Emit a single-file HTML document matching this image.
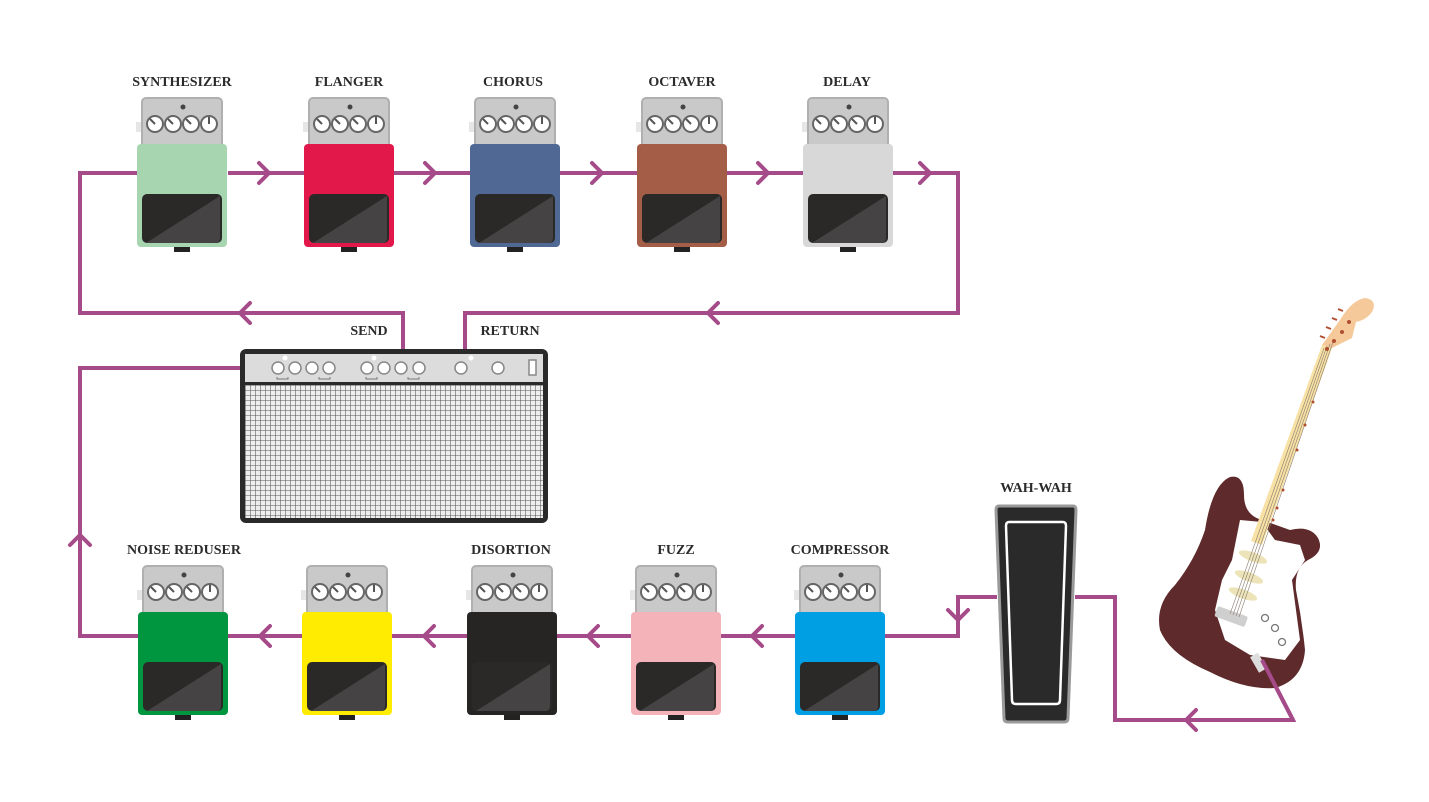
<!DOCTYPE html>
<html><head><style>
html,body{margin:0;padding:0;background:#fff;}
svg{display:block}
text{font-family:"Liberation Serif",serif;font-weight:bold;font-size:14px;fill:#2b2b2b;text-anchor:middle}
</style></head><body>
<svg width="1429" height="802" viewBox="0 0 1429 802" xmlns="http://www.w3.org/2000/svg">
<defs>
<g id="top">
<rect x="-46" y="24" width="8" height="10" fill="#e6e6e6"/>
<rect x="-40" y="0" width="80" height="50" rx="4" fill="#c9c9c9" stroke="#b0b0b0" stroke-width="2"/>
<circle cx="1" cy="9" r="2.5" fill="#444"/>
<g fill="#fff" stroke="#666" stroke-width="2">
<circle cx="-27" cy="26" r="8"/><circle cx="-9" cy="26" r="8"/><circle cx="9" cy="26" r="8"/><circle cx="27" cy="26" r="8"/></g>
<g stroke="#555" stroke-width="2"><line x1="-27" y1="26" x2="-32" y2="21"/><line x1="-9" y1="26" x2="-14" y2="21"/><line x1="9" y1="26" x2="4" y2="21"/><line x1="27" y1="26" x2="27" y2="19"/></g>
</g>
<g id="foot">
<rect x="-40" y="96" width="80" height="49" rx="5" fill="#2a2928"/>
<path d="M38 98 L38 140 Q38 145 33 145 L-36 145 Z" fill="#454344"/>
<rect x="-8" y="149" width="16" height="5" fill="#222"/>
</g>
<pattern id="grid" width="5" height="5" patternUnits="userSpaceOnUse">
<rect width="5" height="5" fill="#eeeeee"/><path d="M0 0H5M0 0V5" stroke="#555" stroke-width="1.1"/>
</pattern>
</defs>

<g fill="none" stroke="#a64b89" stroke-width="4" stroke-linejoin="miter">
<polyline points="138,173 80,173 80,313 403,313 403,350"/>
<polyline points="465,350 465,313 958,313 958,173 893,173"/>
<line x1="228" y1="173" x2="305" y2="173"/>
<line x1="394" y1="173" x2="471" y2="173"/>
<line x1="560" y1="173" x2="638" y2="173"/>
<line x1="727" y1="173" x2="804" y2="173"/>
<polyline points="252,368 80,368 80,636 138,636"/>
<line x1="228" y1="636" x2="302" y2="636"/>
<line x1="392" y1="636" x2="467" y2="636"/>
<line x1="557" y1="636" x2="631" y2="636"/>
<line x1="721" y1="636" x2="796" y2="636"/>
<polyline points="885,636 958,636 958,597 997,597"/>
<polyline points="1075,597 1115,597 1115,720 1293,720 1262,660"/>
<g stroke-linecap="round" stroke-linejoin="round">
<polyline points="259,163 269,173 259,183"/>
<polyline points="425,163 435,173 425,183"/>
<polyline points="592,163 602,173 592,183"/>
<polyline points="758,163 768,173 758,183"/>
<polyline points="920,163 930,173 920,183"/>
<polyline points="250,303 240,313 250,323"/>
<polyline points="718,303 708,313 718,323"/>
<polyline points="70,545 80,535 90,545"/>
<polyline points="270,626 260,636 270,646"/>
<polyline points="434,626 424,636 434,646"/>
<polyline points="598,626 588,636 598,646"/>
<polyline points="762,626 752,636 762,646"/>
<polyline points="948,610 958,620 968,610"/>
<polyline points="1196,710 1186,720 1196,730"/>
</g>
</g>
<circle cx="250" cy="368" r="5" fill="#a64b89"/>

<g transform="translate(182,98)"><use href="#top"/><rect x="-45" y="46" width="90" height="103" rx="4" fill="#a6d5b0"/><use href="#foot"/></g>
<g transform="translate(349,98)"><use href="#top"/><rect x="-45" y="46" width="90" height="103" rx="4" fill="#e2184a"/><use href="#foot"/></g>
<g transform="translate(515,98)"><use href="#top"/><rect x="-45" y="46" width="90" height="103" rx="4" fill="#506894"/><use href="#foot"/></g>
<g transform="translate(682,98)"><use href="#top"/><rect x="-45" y="46" width="90" height="103" rx="4" fill="#a45d47"/><use href="#foot"/></g>
<g transform="translate(848,98)"><use href="#top"/><rect x="-45" y="46" width="90" height="103" rx="4" fill="#d8d8d8"/><use href="#foot"/></g>
<text x="182" y="86">SYNTHESIZER</text>
<text x="349" y="86">FLANGER</text>
<text x="513" y="86">CHORUS</text>
<text x="682" y="86">OCTAVER</text>
<text x="847" y="86">DELAY</text>

<g transform="translate(183,566)"><use href="#top"/><rect x="-45" y="46" width="90" height="103" rx="4" fill="#009640"/><use href="#foot"/></g>
<g transform="translate(347,566)"><use href="#top"/><rect x="-45" y="46" width="90" height="103" rx="4" fill="#ffec00"/><use href="#foot"/></g>
<g transform="translate(512,566)"><use href="#top"/><rect x="-45" y="46" width="90" height="103" rx="4" fill="#262524"/><use href="#foot"/></g>
<g transform="translate(676,566)"><use href="#top"/><rect x="-45" y="46" width="90" height="103" rx="4" fill="#f4b3b9"/><use href="#foot"/></g>
<g transform="translate(840,566)"><use href="#top"/><rect x="-45" y="46" width="90" height="103" rx="4" fill="#009fe3"/><use href="#foot"/></g>
<text x="184" y="554">NOISE REDUSER</text>
<text x="511" y="554">DISORTION</text>
<text x="676" y="554">FUZZ</text>
<text x="840" y="554">COMPRESSOR</text>
<text x="1036" y="492">WAH-WAH</text>
<text x="369" y="335">SEND</text>
<text x="510" y="335">RETURN</text>

<rect x="240" y="349" width="308" height="174" rx="6" fill="#2a2a2a"/>
<rect x="245" y="354" width="298" height="28" fill="#dcdcdc"/>
<rect x="245" y="385" width="298" height="133" fill="url(#grid)"/>
<g fill="#fff" stroke="#888" stroke-width="1.5">
<circle cx="278" cy="368" r="6"/><circle cx="295" cy="368" r="6"/><circle cx="312" cy="368" r="6"/><circle cx="329" cy="368" r="6"/>
<circle cx="367" cy="368" r="6"/><circle cx="384" cy="368" r="6"/><circle cx="401" cy="368" r="6"/><circle cx="419" cy="368" r="6"/>
<circle cx="461" cy="368" r="6"/><circle cx="498" cy="368" r="6"/>
<rect x="529" y="360" width="7" height="15"/></g>
<g stroke="#777" stroke-width="1" fill="none"><polyline points="277,377 277,379 288,379 288,377"/><polyline points="319,377 319,379 330,379 330,377"/><polyline points="366,377 366,379 377,379 377,377"/><polyline points="408,377 408,379 419,379 419,377"/></g>
<g fill="#fff"><circle cx="285" cy="358" r="2.5"/><circle cx="374" cy="358" r="2.5"/><circle cx="471" cy="358" r="2.5"/></g>

<path d="M999 506 L1073 506 Q1076 506 1076 510 L1068 718 Q1068 722 1064 722 L1008 722 Q1004 722 1004 718 L996 510 Q996 506 999 506Z" fill="#2a2a2a" stroke="#9a9a9a" stroke-width="3"/>
<path d="M1009 522 L1063 522 Q1066 522 1066 526 L1060 700 Q1060 704 1056 704 L1016 704 Q1012 704 1012 700 L1006 526 Q1006 522 1009 522Z" fill="none" stroke="#fff" stroke-width="2.5"/>

<!-- guitar -->
<path d="M1230 477 Q1244 474 1244 495 Q1244 515 1262 520 L1290 530 Q1310 525 1318 538 Q1325 552 1308 560 Q1294 568 1296 590 Q1302 620 1305 650 Q1303 680 1275 688 Q1245 690 1210 672 Q1170 655 1160 630 Q1155 605 1175 585 Q1195 560 1205 530 Q1212 485 1230 477Z" fill="#5e2a2b"/>
<path d="M1240 520 L1262 522 L1275 540 L1300 545 L1305 560 L1292 580 L1300 640 L1285 660 L1250 655 L1225 640 L1215 610 L1222 580 L1232 560Z" fill="#fff"/>
<g fill="#ece4b8"><ellipse cx="1253" cy="557" rx="15" ry="4.5" transform="rotate(20 1253 557)"/><ellipse cx="1249" cy="577" rx="15" ry="4.5" transform="rotate(20 1249 577)"/><ellipse cx="1243" cy="594" rx="15" ry="4.5" transform="rotate(20 1243 594)"/></g>
<rect x="1215" y="611" width="32" height="11" rx="2" fill="#cfcfcf" transform="rotate(20 1231 617)"/>
<g fill="none" stroke="#777" stroke-width="1.3"><circle cx="1265" cy="618" r="3.5"/><circle cx="1275" cy="628" r="3.5"/><circle cx="1282" cy="642" r="3.5"/></g>
<polygon points="1322,345 1332,348 1262,545 1251,541" fill="#f7e1a4"/>
<path d="M1322 345 L1340 320 Q1352 300 1365 298 Q1378 300 1372 312 Q1366 320 1356 322 L1352 338 L1332 348Z" fill="#f5c99a"/>
<g stroke="#8a7d70" stroke-width="0.6"><line x1="1324" y1="348" x2="1230" y2="614"/><line x1="1327" y1="346" x2="1233" y2="615"/><line x1="1330" y1="344" x2="1236" y2="616"/><line x1="1333" y1="342" x2="1239" y2="617"/></g>
<g fill="#b05030"><circle cx="1327" cy="349" r="2"/><circle cx="1334" cy="341" r="2"/><circle cx="1342" cy="332" r="2"/><circle cx="1349" cy="322" r="2"/><circle cx="1313" cy="402" r="1.5"/><circle cx="1305" cy="425" r="1.5"/><circle cx="1297" cy="450" r="1.5"/><circle cx="1283" cy="490" r="1.5"/><circle cx="1277" cy="508" r="1.5"/><circle cx="1273" cy="520" r="1.5"/></g>
<g stroke="#b05030" stroke-width="2"><line x1="1320" y1="336" x2="1325" y2="338"/><line x1="1326" y1="327" x2="1331" y2="329"/><line x1="1332" y1="318" x2="1337" y2="320"/><line x1="1338" y1="309" x2="1343" y2="311"/></g>
<rect x="1254" y="654" width="9" height="18" fill="#ddd" transform="rotate(-30 1258 663)"/>
<line x1="1293" y1="720" x2="1262" y2="660" stroke="#a64b89" stroke-width="4"/>
</svg>
</body></html>
